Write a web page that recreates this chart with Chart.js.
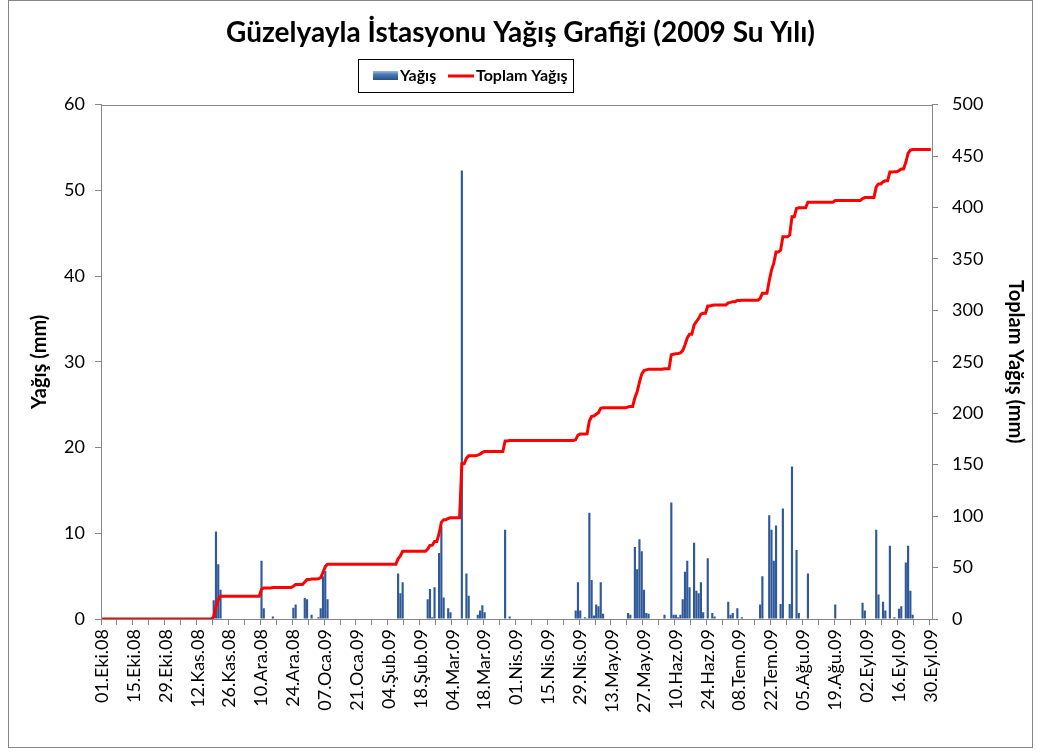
<!DOCTYPE html>
<html>
<head>
<meta charset="utf-8">
<script src="https://cdn.jsdelivr.net/npm/chart.js@4.4.1/dist/chart.umd.min.js"></script>
<style>
  html, body { margin: 0; padding: 0; background: #fff; }
  #wrap { width: 1041px; height: 753px; }
</style>
</head>
<body>
<div id="wrap"><canvas id="chart" width="1041" height="753"></canvas></div>
<script>
// x tick labels, one every 14 days of the water year (01.10.2008 - 30.09.2009)
var tickLabels = ['01.Eki.08', '15.Eki.08', '29.Eki.08', '12.Kas.08', '26.Kas.08', '10.Ara.08',
    '24.Ara.08', '07.Oca.09', '21.Oca.09', '04.Şub.09', '18.Şub.09', '04.Mar.09', '18.Mar.09',
    '01.Nis.09', '15.Nis.09', '29.Nis.09', '13.May.09', '27.May.09', '10.Haz.09', '24.Haz.09',
    '08.Tem.09', '22.Tem.09', '05.Ağu.09', '19.Ağu.09', '02.Eyl.09', '16.Eyl.09', '30.Eyl.09'];
var dayCount = 365;

// rainy days (day index from 01.Eki.08) and daily precipitation in mm
var rainDay = [49, 50, 51, 52, 70, 71, 75, 84, 85, 89, 90, 92, 95, 96, 97, 98, 99,
    130, 131, 132, 143, 144, 145, 146, 148, 149, 150, 152, 153,
    158, 160, 161, 165, 166, 167, 168, 177, 179,
    208, 209, 210, 212, 213, 214, 215, 216, 217, 218, 219, 220, 231, 232,
    234, 235, 236, 237, 238, 239, 240, 247, 250, 251, 252, 253, 254, 255, 256, 257, 258,
    260, 261, 262, 263, 264, 266, 268, 269, 275, 276, 277, 279, 281, 289, 290,
    293, 294, 295, 296, 298, 299, 302, 303, 305, 306, 310, 322, 334, 335,
    340, 341, 343, 344, 346, 348, 350, 351, 353, 354, 355, 356];
var rainMm = [2.2, 10.2, 6.4, 3.4, 6.8, 1.25, 0.3, 1.3, 1.7, 2.45, 2.3, 0.5, 0.2, 1.25, 5.0, 5.6, 2.3,
    5.3, 3.0, 4.3, 2.3, 3.5, 0.2, 3.7, 7.7, 10.8, 2.5, 1.25, 0.8,
    52.3, 5.3, 2.7, 0.5, 1.0, 1.6, 0.8, 10.4, 0.3,
    1.0, 4.3, 1.0, 0.2, 0.1, 12.4, 4.55, 0.4, 1.7, 1.5, 4.3, 0.6, 0.7, 0.5,
    8.4, 5.8, 9.3, 7.9, 3.4, 0.7, 0.6, 0.5, 13.6, 0.5, 0.5, 0.2, 0.5, 2.3, 5.5, 6.8, 3.7,
    8.9, 3.3, 3.0, 4.3, 0.8, 7.1, 0.7, 0.3, 2.0, 0.5, 0.7, 1.25, 0.2, 1.7, 5.0,
    12.1, 10.4, 6.8, 10.9, 1.75, 12.9, 1.75, 17.8, 8.05, 0.7, 5.3, 1.7, 1.9, 1.0,
    10.4, 2.85, 2.0, 1.0, 8.55, 0.2, 1.2, 1.5, 6.6, 8.55, 3.3, 0.5];

var categories = [];
var daily = [];
for (var i = 0; i < dayCount; i++) {
    categories.push(i);
    daily.push(0);
}
rainDay.forEach(function (d, k) { daily[d] = rainMm[k]; });

// running total of the daily values
var total = [];
var sum = 0;
daily.forEach(function (v) { sum += v; total.push(Math.round(sum * 100) / 100); });

var FONT = 'Lato, "Open Sans", sans-serif';
var AXIS = '#868686';

var frame = {
    id: 'frame',
    beforeDraw: function (chart) {
        var ctx = chart.ctx;
        ctx.save();
        ctx.fillStyle = '#fff';
        ctx.fillRect(0, 0, chart.width, chart.height);
        ctx.restore();
    },
    afterDraw: function (chart) {
        var ctx = chart.ctx;
        var a = chart.chartArea;
        ctx.save();
        // outer chart border
        ctx.strokeStyle = AXIS;
        ctx.lineWidth = 1;
        ctx.strokeRect(8.5, 0.5, 1024, 747);
        // plot area border
        ctx.strokeRect(Math.round(a.left) + 0.5, Math.round(a.top) + 0.5,
            Math.round(a.right - a.left), Math.round(a.bottom - a.top));
        // legend
        ctx.strokeStyle = '#000';
        ctx.strokeRect(358.5, 59.5, 215, 33);
        var g = ctx.createLinearGradient(0, 71, 0, 80);
        g.addColorStop(0, '#9DBBE3');
        g.addColorStop(0.4, '#4A76B3');
        g.addColorStop(1, '#2A4F84');
        ctx.fillStyle = g;
        ctx.fillRect(373, 71, 25, 9);
        ctx.strokeStyle = '#FF0000';
        ctx.lineWidth = 3;
        ctx.beginPath();
        ctx.moveTo(448, 76);
        ctx.lineTo(474, 76);
        ctx.stroke();
        ctx.fillStyle = '#000';
        ctx.font = 'bold 16px ' + FONT;
        ctx.textBaseline = 'middle';
        ctx.fillText('Yağış', 400, 76);
        ctx.fillText('Toplam Yağış', 476, 76);
        ctx.restore();
    }
};

new Chart(document.getElementById('chart'), {
    type: 'bar',
    data: {
        labels: categories,
        datasets: [{
            type: 'line',
            label: 'Toplam Yağış',
            data: total,
            yAxisID: 'y2',
            borderColor: '#FF0000',
            borderWidth: 3,
            pointRadius: 0,
            tension: 0,
            order: 0
        }, {
            label: 'Yağış',
            data: daily,
            yAxisID: 'y',
            backgroundColor: '#30599A',
            borderWidth: 0,
            barPercentage: 0.95,
            categoryPercentage: 1.0,
            order: 1
        }]
    },
    options: {
        responsive: false,
        animation: false,
        devicePixelRatio: 1,
        layout: { padding: { left: 10, right: 10, top: 0, bottom: 0 } },
        plugins: {
            legend: { display: false },
            tooltip: { enabled: false },
            title: {
                display: true,
                text: 'Güzelyayla İstasyonu Yağış Grafiği (2009 Su Yılı)',
                color: '#000',
                font: { family: FONT, size: 28, weight: 'bold' },
                padding: { top: 16, bottom: 55 }
            }
        },
        scales: {
            x: {
                type: 'category',
                offset: true,
                grid: {
                    offset: true,
                    drawOnChartArea: false,
                    drawTicks: true,
                    tickLength: 6,
                    color: function (c) { return c.index % 7 === 0 ? AXIS : 'rgba(0,0,0,0)'; }
                },
                border: { display: true, color: AXIS },
                ticks: {
                    autoSkip: false,
                    minRotation: 90,
                    maxRotation: 90,
                    padding: 4,
                    color: '#000',
                    font: { family: FONT, size: 18 },
                    callback: function (v, i) { return i % 14 === 0 ? tickLabels[i / 14] : ''; }
                },
                afterFit: function (s) { s.height = 134; }
            },
            y: {
                position: 'left',
                min: 0,
                max: 60,
                grid: { drawOnChartArea: false, tickLength: 6, color: AXIS },
                border: { display: true, color: AXIS },
                ticks: { stepSize: 10, padding: 10, color: '#000', font: { family: FONT, size: 18 } },
                title: {
                    display: true,
                    text: 'Yağış (mm)',
                    color: '#000',
                    font: { family: FONT, size: 20, weight: 'bold' },
                    padding: { top: 18, bottom: 0 }
                },
                afterFit: function (s) { s.width = 91; }
            },
            y2: {
                position: 'right',
                min: 0,
                max: 500,
                grid: { drawOnChartArea: false, tickLength: 6, color: AXIS },
                border: { display: true, color: AXIS },
                ticks: { stepSize: 50, padding: 14, color: '#000', font: { family: FONT, size: 18 } },
                title: {
                    display: true,
                    text: 'Toplam Yağış (mm)',
                    color: '#000',
                    font: { family: FONT, size: 20, weight: 'bold' },
                    padding: { top: 4, bottom: 0 }
                },
                afterFit: function (s) { s.width = 99; }
            }
        }
    },
    plugins: [frame]
});
</script>
</body>
</html>
